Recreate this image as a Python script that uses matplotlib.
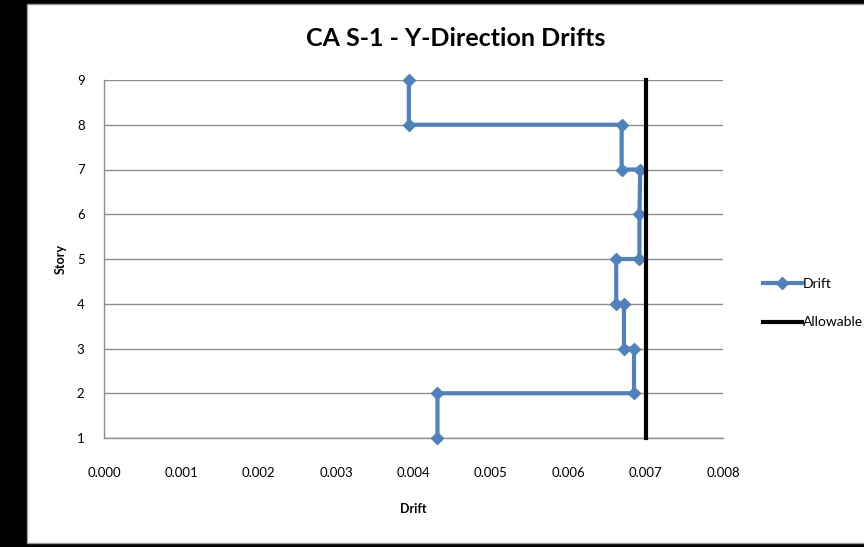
import matplotlib.pyplot as plt
from matplotlib.patches import Rectangle

# drift profile (step shape)
drift = [0.00394, 0.00394, 0.00669, 0.00669, 0.00693, 0.00692, 0.00692,
         0.00662, 0.00662, 0.00672, 0.00672, 0.00685, 0.00685, 0.00431, 0.00431]
story = [9, 8, 8, 7, 7, 6, 5, 5, 4, 4, 3, 3, 2, 2, 1]

allow_x = [0.007, 0.007]
allow_y = [1, 9]

x_ticks = [0.000, 0.001, 0.002, 0.003, 0.004, 0.005, 0.006, 0.007, 0.008]
y_ticks = [1, 2, 3, 4, 5, 6, 7, 8, 9]

plt.rcParams['font.family'] = ['Lato', 'DejaVu Sans']

fig = plt.figure(figsize=(8.64, 5.47), dpi=100, facecolor="black")
# white chart area inside the black frame
fig.patches.append(Rectangle((27 / 864, 4 / 547), 1, 539 / 547,
                             transform=fig.transFigure, facecolor="white",
                             edgecolor="#9a9a9a", linewidth=1, zorder=-5))

ax = fig.add_axes([104 / 864, 1 - 438 / 547, 619 / 864, 358 / 547])
ax.set_facecolor("white")

ax.plot(drift, story, color="#4F81BD", linewidth=3, marker="D",
        markersize=6.5, label="Drift", zorder=3, clip_on=False)
ax.plot(allow_x, allow_y, color="black", linewidth=3, label="Allowable",
        zorder=4, clip_on=False)

ax.set_xlim(0, 0.008)
ax.set_ylim(1, 9)
ax.set_xticks(x_ticks)
ax.set_xticklabels([f"{v:.3f}" for v in x_ticks])
ax.set_yticks(y_ticks)
ax.tick_params(length=0, labelsize=9.5)
ax.tick_params(axis="x", pad=21)
ax.tick_params(axis="y", pad=14)
ax.grid(axis="y", color="#8c8c8c", linewidth=1)
ax.set_axisbelow(True)

for s in ["top", "right"]:
    ax.spines[s].set_visible(False)
for s in ["left", "bottom"]:
    ax.spines[s].set_color("#8c8c8c")
    ax.spines[s].set_linewidth(1)

ax.set_xlabel("Drift", fontsize=9, fontweight="bold", labelpad=17)
ax.set_ylabel("Story", fontsize=9, fontweight="bold", labelpad=7)

fig.text(456 / 864, 1 - 38 / 547, "CA S-1 - Y-Direction Drifts", fontsize=18,
         fontweight="bold", ha="center", va="center")

fig.legend(loc="upper left", bbox_to_anchor=(763 / 864, 1 - 278 / 547),
           frameon=False, fontsize=10, handlelength=2.8, handletextpad=0.05,
           labelspacing=1.9, borderaxespad=0, borderpad=0)

fig.savefig("out.png", dpi=100, facecolor=fig.get_facecolor())
